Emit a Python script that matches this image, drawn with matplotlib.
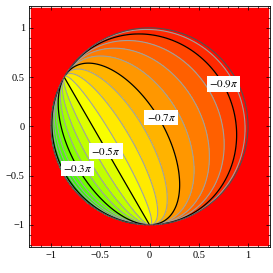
import numpy as np
import matplotlib
matplotlib.use("Agg")
import matplotlib.pyplot as plt
from matplotlib.colors import hsv_to_rgb
from matplotlib.patches import Circle, Rectangle

# puntos del borde (angulo en grados) que definen la fase
polo_a = 90.0
polo_c = -30.0

# niveles de contorno en unidades de pi
niveles = np.round(np.arange(-1.0, 0.001, 0.05), 2)
niveles_negros = [-0.9, -0.7, -0.5, -0.3, -0.1]
niveles_grises = [v for v in niveles if np.min(np.abs(np.array(niveles_negros) - v)) > 1e-6]

etiquetas = [r"$-0.9\pi$", r"$-0.7\pi$", r"$-0.5\pi$", r"$-0.3\pi$"]
pos_etiquetas = [(0.75, 0.43), (0.12, 0.09), (-0.44, -0.25), (-0.73, -0.43)]

ticks = [-1, -0.5, 0, 0.5, 1]
tick_labels = ["\u22121", "\u22120.5", "0", "0.5", "1"]

plt.rcParams["mathtext.fontset"] = "stix"
plt.rcParams["font.family"] = "Liberation Serif"
plt.rcParams["contour.negative_linestyle"] = "solid"

# campo: fase geometrica sobre el hemisferio superior
g = np.linspace(-1, 1, 901)
X, Y = np.meshgrid(g, g)
R2 = X**2 + Y**2
Z = np.sqrt(np.clip(1 - R2, 0, None))
a = np.array([np.cos(np.radians(polo_a)), np.sin(np.radians(polo_a))])
c = np.array([np.cos(np.radians(polo_c)), np.sin(np.radians(polo_c))])
triple = Z * (c[0] * a[1] - c[1] * a[0])
den = 1 + (a[0] * X + a[1] * Y) + (c[0] * X + c[1] * Y) + (a @ c)
F = -1 + np.arctan2(triple, den) / np.pi
F = np.ma.masked_where(R2 > 1, F)

# color tipo Hue: rojo en -pi, amarillo cerca de -0.53 pi, verde hacia 0
medios = (niveles[:-1] + niveles[1:]) / 2
tonos = (medios + 1) * 0.36
colores = hsv_to_rgb(np.stack([tonos, np.ones_like(tonos), np.ones_like(tonos)], axis=1))

fig = plt.figure(figsize=(2.73, 2.73), dpi=100)
ax = fig.add_axes([29 / 273, 26.3 / 273, 241 / 273, 240.7 / 273])
ax.add_patch(Rectangle((-1.2, -1.2), 2.4, 2.4, color="red", zorder=0))
ax.contourf(X, Y, F, levels=niveles, colors=colores, zorder=1)
ax.contour(X, Y, F, levels=niveles_grises, colors="#a0a0a0", linewidths=0.8,
           linestyles="solid", zorder=2)
ax.contour(X, Y, F, levels=niveles_negros, colors="black", linewidths=0.9,
           linestyles="solid", zorder=3)
ax.add_patch(Circle((0, 0), 1, fill=False, edgecolor="#505050", linewidth=0.8, zorder=3))

for txt, (px, py) in zip(etiquetas, pos_etiquetas):
    ax.text(px, py, txt, ha="center", va="center", fontsize=8, zorder=5,
            bbox=dict(facecolor="white", edgecolor="none", pad=1.5))

ax.set_xlim(-1.223, 1.223)
ax.set_ylim(-1.222, 1.222)
ax.set_xticks(ticks)
ax.set_xticklabels(tick_labels)
ax.set_yticks(ticks)
ax.set_yticklabels(tick_labels)
ax.set_xticks(np.arange(-1.2, 1.21, 0.1), minor=True)
ax.set_yticks(np.arange(-1.2, 1.21, 0.1), minor=True)
ax.tick_params(which="both", direction="in", top=True, right=True, width=0.5, labelsize=7.5, pad=3)
ax.tick_params(which="major", length=3)
ax.tick_params(which="minor", length=1.5)
for s in ax.spines.values():
    s.set_linewidth(0.6)

fig.savefig("out.png", dpi=100)
